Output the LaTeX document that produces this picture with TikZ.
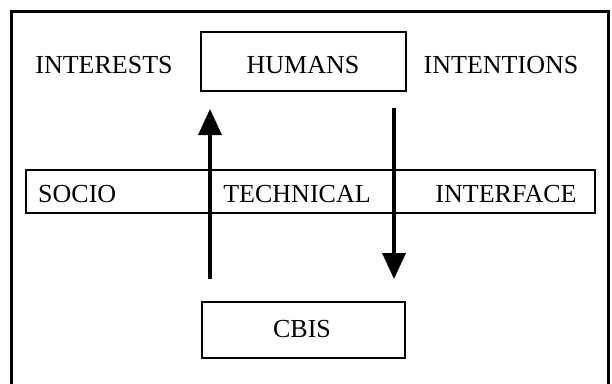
\documentclass[tikz,border=0pt]{standalone}
\usepackage{fontspec}
\setmainfont{Liberation Serif}
\usetikzlibrary{arrows.meta}
\begin{document}
\begin{tikzpicture}[x=1pt,y=-1pt,
  lbl/.style={font=\fontsize{26}{28}\selectfont, anchor=base, inner sep=0pt},
  boxframe/.style={draw, line width=1.8pt},
  flow/.style={line width=3.5pt, -{Triangle[length=26pt,width=23pt]}}]
\useasboundingbox (0,0) rectangle (612,383);
% outer frame (bottom edge lies below the page)
\draw[line width=3pt] (11,11) rectangle (608,390);
% boxes
\node[boxframe, minimum width=205pt, minimum height=59pt, inner sep=0pt] (humans) at (303.5,61.5) {};
\node[boxframe, minimum width=569pt, minimum height=43pt, inner sep=0pt] (band) at (310.5,191.5) {};
\node[boxframe, minimum width=203pt, minimum height=56pt, inner sep=0pt] (cbis) at (303.5,330) {};
% texts
\node[lbl] (tinterests) at (104,73) {INTERESTS};
\node[lbl] (thumans) at (303,73) {HUMANS};
\node[lbl] (tintentions) at (501,73) {INTENTIONS};
\node[lbl, anchor=base west] (tsocio) at (38,202) {SOCIO};
\node[lbl] (ttechnical) at (297,202) {TECHNICAL};
\node[lbl] (tinterface) at (506,202) {INTERFACE};
\node[lbl] (tcbis) at (302,337) {CBIS};
% arrows
\coordinate (upstart) at (210,279);
\coordinate (upend) at (210,109);
\coordinate (downstart) at (394,108);
\coordinate (downend) at (394,279);
\draw[flow] (upstart) -- (upend);
\draw[flow] (downstart) -- (downend);
\end{tikzpicture}
\end{document}
